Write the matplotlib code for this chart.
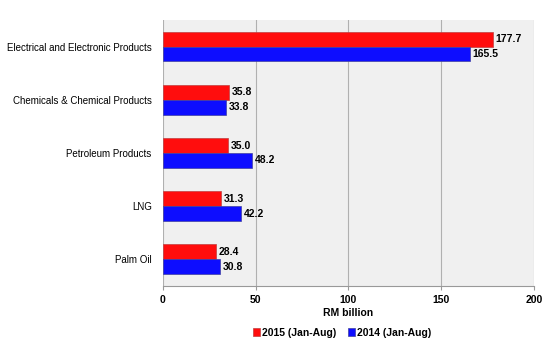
import numpy as np
import matplotlib.pyplot as plt

categories = ["Electrical and Electronic Products", "Chemicals & Chemical Products",
              "Petroleum Products", "LNG", "Palm Oil"]
values_2015 = [177.7, 35.8, 35.0, 31.3, 28.4]
values_2014 = [165.5, 33.8, 48.2, 42.2, 30.8]
series_names = ["2015 (Jan-Aug)", "2014 (Jan-Aug)"]

plt.rcParams["font.family"] = ["Liberation Sans", "DejaVu Sans"]

fig = plt.figure(figsize=(5.5, 3.5), dpi=100)
ax = fig.add_axes([0.296, 0.183, 0.675, 0.76])
ax.set_facecolor("#f0f0f0")

y = np.arange(len(categories))
h = 0.28
b1 = ax.barh(y - h / 2, values_2015, height=h, color="#ff0d0d", edgecolor="#c04040", linewidth=0.5,
             label=series_names[0], zorder=3)
b2 = ax.barh(y + h / 2, values_2014, height=h, color="#0d0dff", edgecolor="#4040a0", linewidth=0.5,
             label=series_names[1], zorder=3)

for bars, vals in ((b1, values_2015), (b2, values_2014)):
    for bar, v in zip(bars, vals):
        ax.text(v + 1.5, bar.get_y() + bar.get_height() / 2, f"{v:.1f}",
                va="center", ha="left", fontsize=7.5, fontweight="bold")

ax.set_yticks(y)
ax.set_yticklabels(categories, fontsize=7)
ax.set_ylim(len(categories) - 0.5, -0.5)
ax.set_xlim(0, 200)
ax.set_xticks([0, 50, 100, 150, 200])
ax.tick_params(axis="x", labelsize=7.5, color="#999999", length=3)
for lbl in ax.get_xticklabels():
    lbl.set_fontweight("bold")
ax.tick_params(axis="y", length=0, pad=8)
ax.set_xlabel("RM billion", fontsize=7.5, fontweight="bold", labelpad=2)
ax.grid(axis="x", color="#b0b0b0", linewidth=0.8, zorder=0)
ax.set_axisbelow(True)
for s in ["top", "right", "left"]:
    ax.spines[s].set_visible(False)
ax.spines["bottom"].set_color("#999999")

fig.legend(handles=[b1, b2], labels=series_names, loc="center", bbox_to_anchor=(0.622, 0.05),
           ncol=2, frameon=False, handlelength=0.6, handleheight=0.8,
           handletextpad=0.2, columnspacing=1.2, prop={"weight": "bold", "size": 7.5})

fig.savefig("out.png", dpi=100)
